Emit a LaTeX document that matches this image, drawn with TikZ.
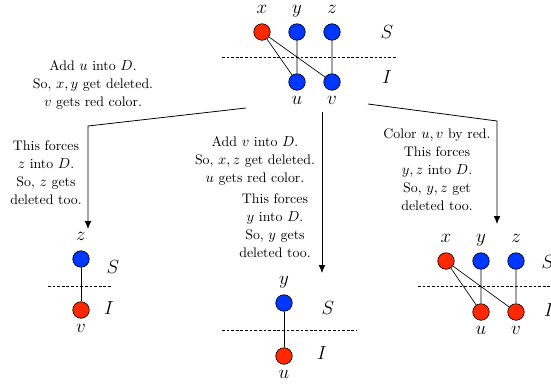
\documentclass[tikz,border=0pt]{standalone}
\usetikzlibrary{arrows.meta}

\definecolor{vred}{RGB}{255,40,0}
\definecolor{vblue}{RGB}{0,55,255}

\tikzset{
  vtx/.style={circle, draw, line width=0.5pt, inner sep=0pt, minimum size=12.5pt},
  uplab/.style={label={[font=\fontsize{15}{18}\selectfont, inner sep=1pt, text depth=0pt, label distance=6pt]above:#1}},
  lowlab/.style={label={[font=\fontsize{15}{18}\selectfont, inner sep=1pt, label distance=3.5pt]below:#1}},
  side/.style={font=\fontsize{15}{18}\selectfont},
  cut/.style={line width=0.5pt, dash pattern=on 2pt off 1.5pt},
  note/.style={align=center, font=\fontsize{10.5}{13.6}\selectfont}
}

\begin{document}
\begin{tikzpicture}[x=0.266mm, y=-0.266mm, >={Latex[length=6pt,width=5pt]}]
    \clip (0,0) rectangle (551,389);

    % top graph
    \foreach \n/\x/\c in {x/262/vred, y/297/vblue, z/332/vblue}
        \node[vtx, fill=\c, uplab=$\n$] (t\n) at (\x,32) {};
    \foreach \n/\x in {u/297, v/332}
        \node[vtx, fill=vblue, lowlab=$\n$] (t\n) at (\x,82) {};
    \draw[line width=0.5pt] (tx) -- (tu) (tx) -- (tv) (ty) -- (tu) (tz) -- (tv);
    \draw[cut] (222,57) -- (397,57);
    \node[side] (tS) at (387,32) {$S$};
    \node[side] (tI) at (387,77) {$I$};

    % branches
    \coordinate (lfrom) at (246,108);
    \coordinate (lbend) at (88,126);
    \coordinate (lto) at (88,229);
    \coordinate (mfrom) at (322,112);
    \coordinate (mto) at (322,273);
    \coordinate (rfrom) at (368,104);
    \coordinate (rbend) at (497,121);
    \coordinate (rto) at (497,224);
    \draw[->, line width=0.6pt] (lfrom) -- (lbend) -- (lto);
    \draw[->, line width=0.6pt] (mfrom) -- (mto);
    \draw[->, line width=0.6pt] (rfrom) -- (rbend) -- (rto);

    \node[note] (n1) at (93,85) {Add $u$ into $D$.\\ So, $x,y$ get deleted.\\ $v$ gets red color.};
    \node[note] (n2) at (46,173) {This forces\\ $z$ into $D$.\\ So, $z$ gets\\ deleted too.};
    \node[note] (n3) at (255,161) {Add $v$ into $D$.\\ So, $x,z$ get deleted.\\ $u$ gets red color.};
    \node[note] (n4) at (275,226) {This forces\\ $y$ into $D$.\\ So, $y$ gets\\ deleted too.};
    \node[note] (n5) at (437,170) {Color $u,v$ by red.\\ This forces\\ $y,z$ into $D$.\\ So, $y,z$ get\\ deleted too.};

    % left result
    \node[vtx, fill=vblue, uplab=$z$] (lz) at (81,259) {};
    \node[vtx, fill=vred, lowlab=$v$] (lv) at (81,310) {};
    \draw[line width=0.5pt] (lz) -- (lv);
    \draw[cut] (48,286) -- (112,286);
    \node[side] (lS) at (113,267) {$S$};
    \node[side] (lI) at (109,308) {$I$};

    % middle result
    \node[vtx, fill=vblue, uplab=$y$] (my) at (284,303) {};
    \node[vtx, fill=vred, lowlab=$u$] (mu) at (284,356) {};
    \draw[line width=0.5pt] (my) -- (mu);
    \draw[cut] (222,330) -- (357,330);
    \node[side] (mS) at (328,308) {$S$};
    \node[side] (mI) at (322,353) {$I$};

    % right result
    \foreach \n/\x/\c in {x/446/vred, y/481/vblue, z/516/vblue}
        \node[vtx, fill=\c, uplab=$\n$] (r\n) at (\x,261) {};
    \foreach \n/\x in {u/481, v/516}
        \node[vtx, fill=vred, lowlab=$\n$] (r\n) at (\x,312) {};
    \draw[line width=0.5pt] (rx) -- (ru) (rx) -- (rv) (ry) -- (ru) (rz) -- (rv);
    \draw[cut] (418,286) -- (560,286);
    \node[side] (rS) at (548,262) {$S$};
    \node[side] (rI) at (549,310) {$I$};
\end{tikzpicture}
\end{document}
